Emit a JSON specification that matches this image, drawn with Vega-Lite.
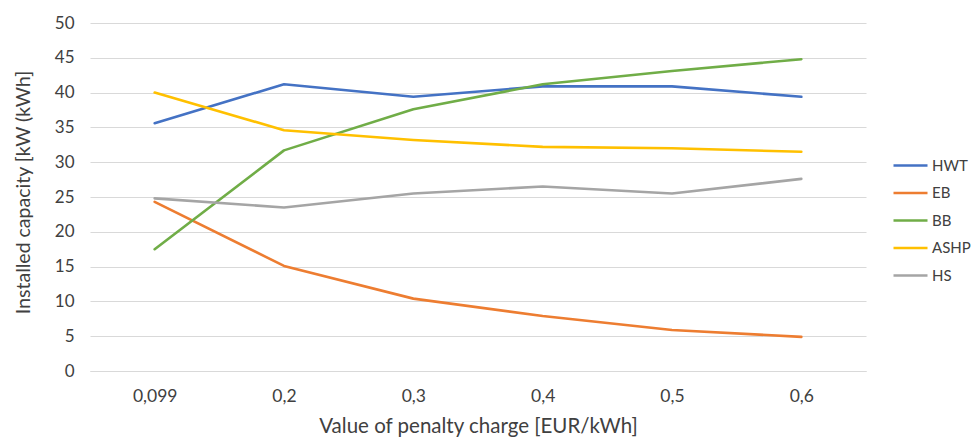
{
  "$schema": "https://vega.github.io/schema/vega-lite/v6.json",
  "width": 776,
  "height": 348,
  "autosize": {"type": "none"},
  "padding": {"left": 90, "top": 23, "right": 105, "bottom": 68},
  "background": "white",
  "config": {
    "view": {"stroke": null},
    "font": "Lato",
    "axis": {"labelColor": "#404040", "titleColor": "#404040", "labelFont": "Lato", "titleFont": "Lato", "titleFontWeight": "normal"},
    "legend": {"labelFont": "Lato", "labelColor": "#404040"}
  },
  "data": {
    "values": [
      {"x": "0,099", "s": "HWT", "v": 35.6}, {"x": "0,2", "s": "HWT", "v": 41.2}, {"x": "0,3", "s": "HWT", "v": 39.4}, {"x": "0,4", "s": "HWT", "v": 40.9}, {"x": "0,5", "s": "HWT", "v": 40.9}, {"x": "0,6", "s": "HWT", "v": 39.4},
      {"x": "0,099", "s": "EB", "v": 24.3}, {"x": "0,2", "s": "EB", "v": 15.1}, {"x": "0,3", "s": "EB", "v": 10.4}, {"x": "0,4", "s": "EB", "v": 7.9}, {"x": "0,5", "s": "EB", "v": 5.9}, {"x": "0,6", "s": "EB", "v": 4.9},
      {"x": "0,099", "s": "BB", "v": 17.5}, {"x": "0,2", "s": "BB", "v": 31.7}, {"x": "0,3", "s": "BB", "v": 37.6}, {"x": "0,4", "s": "BB", "v": 41.2}, {"x": "0,5", "s": "BB", "v": 43.1}, {"x": "0,6", "s": "BB", "v": 44.8},
      {"x": "0,099", "s": "ASHP", "v": 40.0}, {"x": "0,2", "s": "ASHP", "v": 34.6}, {"x": "0,3", "s": "ASHP", "v": 33.2}, {"x": "0,4", "s": "ASHP", "v": 32.2}, {"x": "0,5", "s": "ASHP", "v": 32.0}, {"x": "0,6", "s": "ASHP", "v": 31.5},
      {"x": "0,099", "s": "HS", "v": 24.8}, {"x": "0,2", "s": "HS", "v": 23.5}, {"x": "0,3", "s": "HS", "v": 25.5}, {"x": "0,4", "s": "HS", "v": 26.5}, {"x": "0,5", "s": "HS", "v": 25.5}, {"x": "0,6", "s": "HS", "v": 27.6}
    ]
  },
  "mark": {"type": "line", "strokeWidth": 2.6, "strokeCap": "round", "strokeJoin": "round"},
  "encoding": {
    "x": {
      "field": "x", "type": "ordinal", "sort": ["0,099", "0,2", "0,3", "0,4", "0,5", "0,6"],
      "scale": {"type": "point", "padding": 0.5},
      "axis": {"title": "Value of penalty charge [EUR/kWh]", "titleFontSize": 20.5, "titlePadding": 12, "labelFontSize": 17.5, "labelPadding": 16, "labelAngle": 0, "ticks": false, "domain": true, "domainColor": "#d9d9d9", "domainWidth": 1, "grid": false}
    },
    "y": {
      "field": "v", "type": "quantitative",
      "scale": {"domain": [0, 50], "nice": false},
      "axis": {"title": "Installed capacity [kW  (kWh]", "titleFontSize": 19.5, "titlePadding": 21, "titleY": 169, "labelFontSize": 17, "labelPadding": 16, "values": [0,5,10,15,20,25,30,35,40,45,50], "ticks": false, "domain": false, "grid": true, "gridColor": "#d9d9d9", "gridWidth": 1}
    },
    "color": {
      "field": "s", "type": "nominal",
      "sort": ["HWT", "EB", "BB", "ASHP", "HS"],
      "scale": {"domain": ["HWT", "EB", "BB", "ASHP", "HS"], "range": ["#4472C4", "#ED7D31", "#70AD47", "#FFC000", "#A5A5A5"]},
      "legend": {"title": null, "orient": "none", "legendX": 802, "legendY": 124, "symbolType": "stroke", "symbolSize": 1156, "symbolStrokeWidth": 2.6, "labelFontSize": 15, "labelOffset": 3, "rowPadding": 0.5}
    }
  }
}
